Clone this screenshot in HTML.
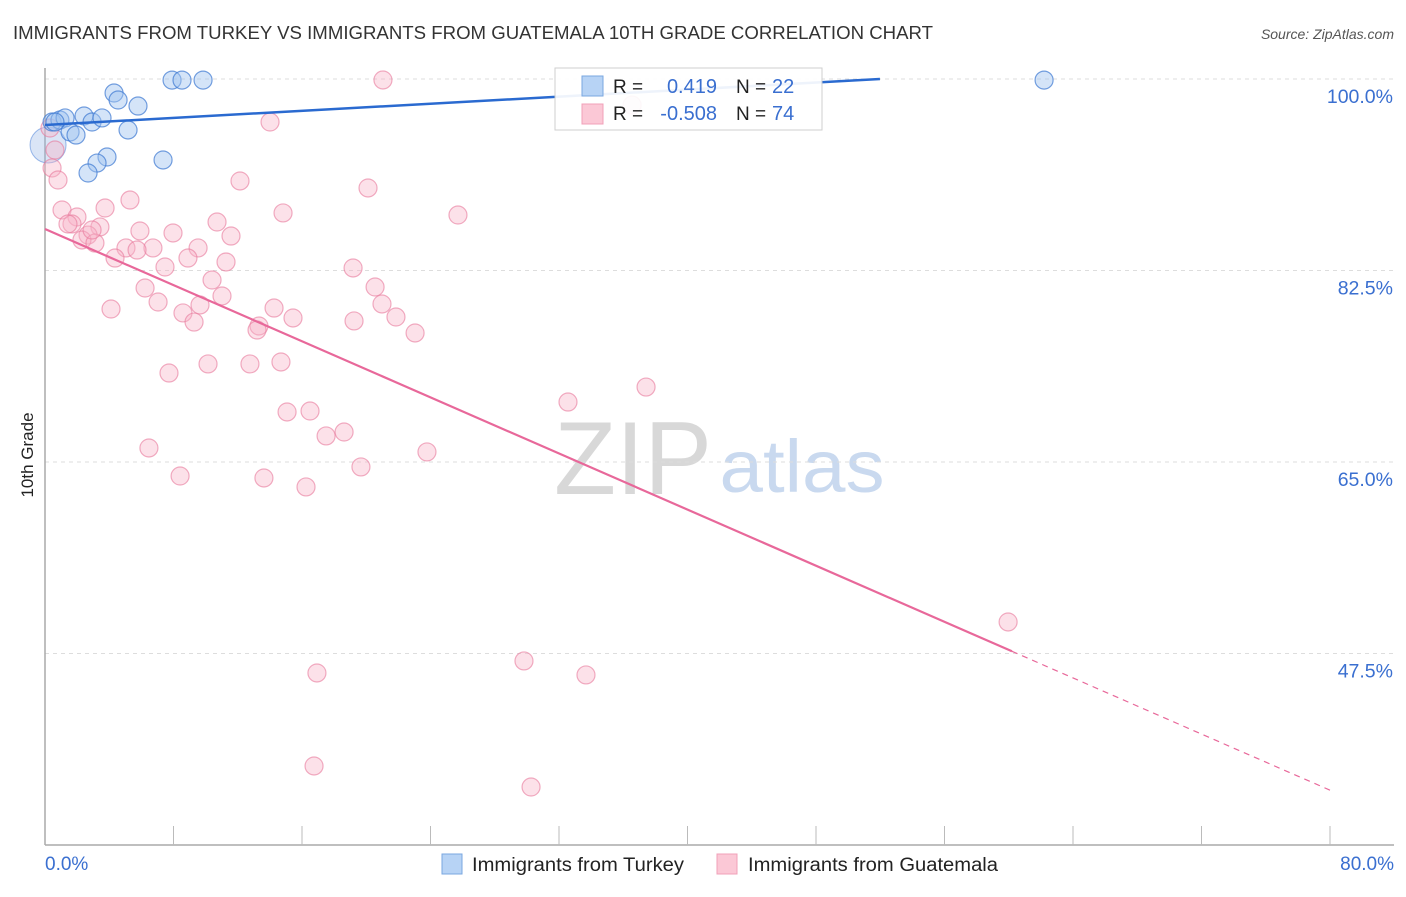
<!DOCTYPE html>
<html><head><meta charset="utf-8"><style>
body{margin:0;background:#fff;font-family:"Liberation Sans",sans-serif;}
svg text{font-family:"Liberation Sans",sans-serif;}
</style></head><body>
<svg id="chart" width="1406" height="892" xmlns="http://www.w3.org/2000/svg">
<text x="13" y="39" font-size="18" fill="#333" textLength="920" lengthAdjust="spacingAndGlyphs">IMMIGRANTS FROM TURKEY VS IMMIGRANTS FROM GUATEMALA 10TH GRADE CORRELATION CHART</text>
<text x="1394" y="39" font-size="14" fill="#555" font-style="italic" text-anchor="end">Source: ZipAtlas.com</text>
<g>
<text x="633" y="494" font-size="104" font-family="Liberation Serif,serif" fill="#d8d8d8" text-anchor="middle" textLength="158" lengthAdjust="spacingAndGlyphs">ZIP</text>
<text x="802" y="492" font-size="74" fill="#c9d9ef" text-anchor="middle" textLength="165" lengthAdjust="spacingAndGlyphs">atlas</text>
</g>
<g id="grid"></g>
<g id="axes"></g>
<g id="pts"></g>
<g id="lines"></g>
<text transform="translate(33,455) rotate(-90)" font-size="17" fill="#222" text-anchor="middle">10th Grade</text>
<g>
<rect x="555" y="68" width="267" height="62" fill="#fff" stroke="#ccc" opacity="0.92"/>
<rect x="582" y="76" width="21" height="20" fill="#b7d3f5" stroke="#7aa7e0"/>
<rect x="582" y="104" width="21" height="20" fill="#fbc8d6" stroke="#f0a0b8"/>
<text x="613" y="93" font-size="19" fill="#222">R = </text>
<text x="717" y="93" font-size="20" fill="#3a6fd0" text-anchor="end">0.419</text>
<text x="736" y="93" font-size="19" fill="#222">N =</text>
<text x="772" y="93" font-size="20" fill="#3a6fd0">22</text>
<text x="613" y="120" font-size="19" fill="#222">R = </text>
<text x="717" y="120" font-size="20" fill="#3a6fd0" text-anchor="end">-0.508</text>
<text x="736" y="120" font-size="19" fill="#222">N =</text>
<text x="772" y="120" font-size="20" fill="#3a6fd0">74</text>
</g>
<g>
<rect x="442" y="854" width="20" height="20" fill="#b7d3f5" stroke="#7aa7e0"/>
<text x="472" y="871" font-size="19" fill="#222" textLength="212" lengthAdjust="spacingAndGlyphs">Immigrants from Turkey</text>
<rect x="717" y="854" width="20" height="20" fill="#fbc8d6" stroke="#f0a0b8"/>
<text x="748" y="871" font-size="19" fill="#222" textLength="250" lengthAdjust="spacingAndGlyphs">Immigrants from Guatemala</text>
</g>
</svg>
<script>
const yTicks=[100,82.5,65,47.5];
const yTickLabels=["100.0%","82.5%","65.0%","47.5%"];
const xLabels=["0.0%","80.0%"];
const turkeyX=[0.44,0.93,1.25,1.56,1.93,2.43,2.93,3.55,4.30,4.55,5.17,5.79,3.86,3.24,2.68,7.35,7.91,8.53,9.84,62.2,0.19,0.62];
const turkeyY=[96.07,96.25,96.44,95.16,94.88,96.62,96.07,96.44,98.72,98.08,95.34,97.53,92.87,92.32,91.41,92.60,99.9,99.9,99.9,99.9,93.97,96.07];
const guatX=[21.04,14.01,0.31,0.62,0.44,0.81,12.14,20.11,5.29,1.06,3.74,1.99,1.68,25.71,14.82,10.71,3.42,1.43,2.68,5.91,7.97,11.58,2.30,3.11,5.04,6.72,9.53,8.90,4.36,5.73,7.47,11.27,19.18,10.40,6.23,20.55,11.02,7.04,4.11,14.26,20.98,9.65,8.59,15.44,21.85,9.28,19.24,13.32,13.20,23.04,14.69,10.15,12.76,7.72,37.42,32.56,15.07,16.50,18.62,17.50,6.47,23.78,19.67,8.41,13.63,16.25,59.96,29.82,16.93,33.68,16.75,30.26,2.93,36.55];
const guatY=[99.91,96.07,95.52,93.51,91.87,90.77,90.68,90.04,88.94,88.03,88.21,87.39,86.75,87.57,87.76,86.93,86.48,86.75,85.74,86.11,85.93,85.65,85.29,85.01,84.56,84.56,84.56,83.64,83.64,84.37,82.82,83.28,82.73,81.63,80.90,80.99,80.17,79.62,78.98,79.07,79.44,79.35,78.62,78.16,78.25,77.79,77.89,77.43,77.06,76.79,74.14,73.96,73.96,73.13,71.85,70.48,69.57,69.66,67.74,67.38,66.28,65.92,64.55,63.72,63.54,62.72,50.38,46.82,45.72,45.54,37.22,35.30,86.20,97.62];
const turkeyTrend=[95.80,0.0808];
const guatTrend=[86.29,-0.641];
const guatSolidEnd=60.2;
const X0=45,X1=1330;
function sx(v){return X0+(v/80)*(X1-X0);}
function sy(v){return 79+(100-v)/17.5*191.5;}
const NS="http://www.w3.org/2000/svg";
function mk(tag,attrs,parent){const e=document.createElementNS(NS,tag);for(const k in attrs)e.setAttribute(k,attrs[k]);parent.appendChild(e);return e;}
const grid=document.getElementById('grid'),axes=document.getElementById('axes'),pts=document.getElementById('pts'),lines=document.getElementById('lines');
yTicks.forEach((t,i)=>{
 const l=mk('line',{x1:X0,x2:1394,y1:sy(t),y2:sy(t),stroke:'#ddd','stroke-dasharray':'4,4'},grid);
 
 
 const tx=mk('text',{x:1393,y:sy(t)+24,'font-size':19.5,fill:'#3a6fd0','text-anchor':'end'},grid);
 tx.textContent=yTickLabels[i];
 
 
});
const ya=mk('line',{x1:X0,x2:X0,y1:68,y2:845,stroke:'#aaa','stroke-width':1.5},axes);


const xa=mk('line',{x1:X0,x2:1394,y1:845,y2:845,stroke:'#aaa','stroke-width':1.5},axes);


for(let i=1;i<=10;i++){
 const t=mk('line',{x1:sx(i*8),x2:sx(i*8),y1:826,y2:845,stroke:'#bbb'},axes);
 
 
}
const xl0=mk('text',{x:45,y:870,'font-size':19,fill:'#3a6fd0'},axes);xl0.textContent=xLabels[0];


const xl1=mk('text',{x:1394,y:870,'font-size':19,fill:'#3a6fd0','text-anchor':'end'},axes);xl1.textContent=xLabels[1];


const bb=mk('circle',{cx:sx(0.19),cy:sy(93.97),r:18,fill:'rgba(150,180,230,0.35)',stroke:'rgba(90,140,220,0.6)'},pts);


guatX.forEach((x,i)=>{
 const c=mk('circle',{cx:sx(x),cy:sy(guatY[i]),r:9,fill:'rgba(248,180,200,0.4)',stroke:'rgba(232,120,155,0.6)','stroke-width':1.2},pts);
 
 
});
turkeyX.forEach((x,i)=>{
 if(i===20)return;
 const c=mk('circle',{cx:sx(x),cy:sy(turkeyY[i]),r:9,fill:'rgba(160,195,240,0.45)',stroke:'rgba(60,120,210,0.7)','stroke-width':1.2},pts);
 
 
});
const bx=(100-turkeyTrend[0])/turkeyTrend[1];
const bl=mk('line',{x1:sx(0),y1:sy(turkeyTrend[0]),x2:sx(bx),y2:sy(100),stroke:'#2a6ad0','stroke-width':2.5},lines);


const pl=mk('line',{x1:sx(0),y1:sy(guatTrend[0]),x2:sx(guatSolidEnd),y2:sy(guatTrend[0]+guatTrend[1]*guatSolidEnd),stroke:'#e8689a','stroke-width':2.2},lines);


const pd=mk('line',{x1:sx(guatSolidEnd),y1:sy(guatTrend[0]+guatTrend[1]*guatSolidEnd),x2:sx(80),y2:sy(guatTrend[0]+guatTrend[1]*80),stroke:'#e8689a','stroke-width':1.2,'stroke-dasharray':'6,5'},lines);


</script>
</body></html>
